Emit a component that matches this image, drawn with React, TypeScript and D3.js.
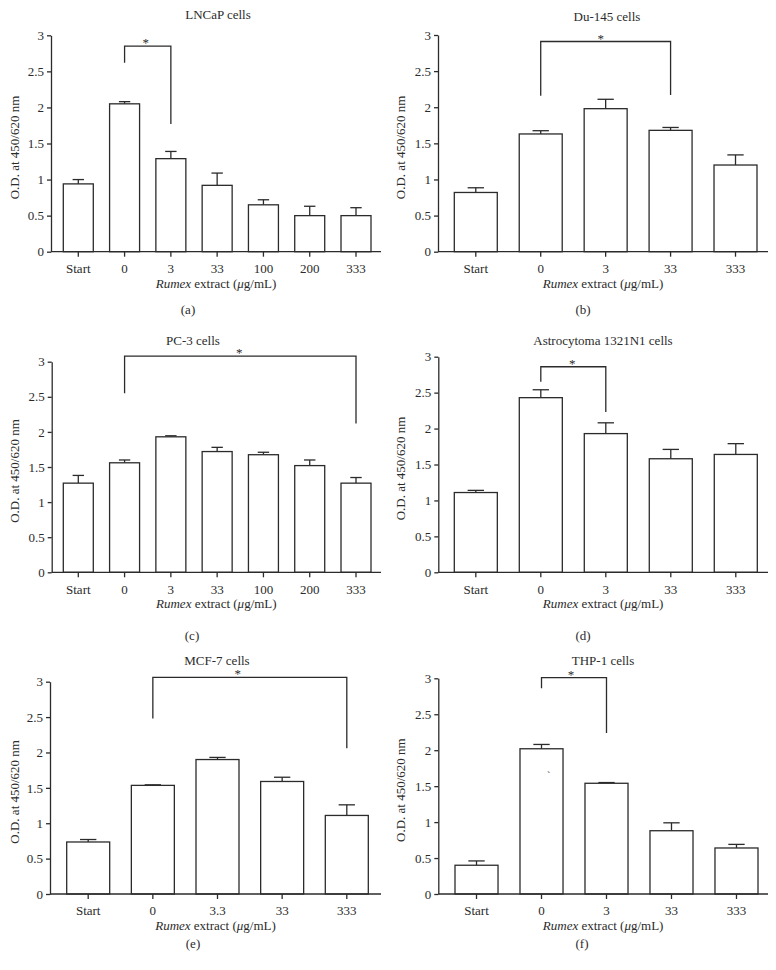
import { useEffect, useRef } from "react";
import * as d3 from "d3";

const FONT = "'Liberation Serif', 'Times New Roman', serif";
const INK = "#2b2b2b";

// y axis ticks shared by every panel
const yTicks = [0, 0.5, 1, 1.5, 2, 2.5, 3];
const yTickLabels = ["0", "0.5", "1", "1.5", "2", "2.5", "3"];

// (a) LNCaP
const catsA = ["Start", "0", "3", "33", "100", "200", "333"];
const meanA = [0.94, 2.05, 1.29, 0.92, 0.65, 0.5, 0.5];
const semA = [0.06, 0.03, 0.1, 0.17, 0.07, 0.13, 0.11];
const sigA = { from: "0", to: "3", top: 2.85, left: 2.62, right: 1.77 };

// (b) Du-145
const catsB = ["Start", "0", "3", "33", "333"];
const meanB = [0.82, 1.63, 1.98, 1.68, 1.2];
const semB = [0.065, 0.045, 0.13, 0.04, 0.14];
const sigB = { from: "0", to: "33", top: 2.91, left: 2.16, right: 2.17 };

// (c) PC-3
const catsC = ["Start", "0", "3", "33", "100", "200", "333"];
const meanC = [1.27, 1.56, 1.93, 1.72, 1.675, 1.52, 1.27];
const semC = [0.11, 0.04, 0.015, 0.06, 0.035, 0.08, 0.08];
const sigC = { from: "0", to: "333", top: 3.08, left: 2.55, right: 2.12 };

// (d) Astrocytoma 1321N1
const catsD = ["Start", "0", "3", "33", "333"];
const meanD = [1.11, 2.43, 1.93, 1.58, 1.64];
const semD = [0.03, 0.11, 0.15, 0.13, 0.15];
const sigD = { from: "0", to: "3", top: 2.86, left: 2.65, right: 2.23 };

// (e) MCF-7
const catsE = ["Start", "0", "3.3", "33", "333"];
const meanE = [0.735, 1.535, 1.9, 1.59, 1.11];
const semE = [0.035, 0.008, 0.03, 0.06, 0.15];
const sigE = { from: "0", to: "333", top: 3.06, left: 2.48, right: 2.06 };

// (f) THP-1
const catsF = ["Start", "0", "3", "33", "333"];
const meanF = [0.4, 2.02, 1.54, 0.88, 0.64];
const semF = [0.06, 0.06, 0.01, 0.11, 0.05];
const sigF = { from: "0", to: "3", top: 3.01, left: 2.86, right: 2.24 };

// page layout of each panel (pixels)
const layouts = [
  { x0: 51, x1: 381, bandL: 63.3, bandR: 371, pad: 0.352, y0: 251.7, y3: 35.3, titleX: 218, titleY: 18.5, tagX: 188, tagY: 313.5, ylx: 14, starDx: -2 },
  { x0: 438, x1: 768, bandL: 454.3, bandR: 757, pad: 0.338, y0: 251.7, y3: 35, titleX: 607, titleY: 21, tagX: 583, tagY: 313.5, ylx: 400, starDx: -5 },
  { x0: 51.7, x1: 381, bandL: 63.3, bandR: 371, pad: 0.352, y0: 572.3, y3: 361.7, titleX: 193, titleY: 344.5, tagX: 192, tagY: 639.5, ylx: 14, starDx: -1 },
  { x0: 438.3, x1: 768, bandL: 454.3, bandR: 757.3, pad: 0.338, y0: 572.3, y3: 356.7, titleX: 603, titleY: 344.5, tagX: 583, tagY: 639.5, ylx: 400, starDx: -1 },
  { x0: 50, x1: 381, bandL: 66.7, bandR: 368.3, pad: 0.335, y0: 894, y3: 681.7, titleX: 217, titleY: 664.5, tagX: 193, tagY: 947.5, ylx: 14, starDx: -12 },
  { x0: 438.3, x1: 768, bandL: 455, bandR: 758, pad: 0.338, y0: 894, y3: 678.3, titleX: 603, titleY: 664.5, tagX: 582, tagY: 947.5, ylx: 400, starDx: -3 },
];

const panels = [
  { title: "LNCaP cells", tag: "(a)", cats: catsA, mean: meanA, sem: semA, sig: sigA },
  { title: "Du-145 cells", tag: "(b)", cats: catsB, mean: meanB, sem: semB, sig: sigB },
  { title: "PC-3 cells", tag: "(c)", cats: catsC, mean: meanC, sem: semC, sig: sigC },
  { title: "Astrocytoma 1321N1 cells", tag: "(d)", cats: catsD, mean: meanD, sem: semD, sig: sigD },
  { title: "MCF-7 cells", tag: "(e)", cats: catsE, mean: meanE, sem: semE, sig: sigE },
  { title: "THP-1 cells", tag: "(f)", cats: catsF, mean: meanF, sem: semF, sig: sigF },
];

export default function App() {
  const svgRef = useRef<SVGSVGElement | null>(null);

  useEffect(() => {
    if (!svgRef.current) return;
    const svg = d3.select(svgRef.current);
    svg.selectAll("*").remove();

    panels.forEach((p, pi) => {
      const L = layouts[pi];
      const g = svg.append("g");

      const x = d3.scaleBand<string>()
        .domain(p.cats)
        .range([L.bandL, L.bandR])
        .paddingInner(L.pad)
        .paddingOuter(0);
      const y = d3.scaleLinear().domain([0, 3]).range([L.y0, L.y3]);
      const bw = x.bandwidth();
      const cx = (c: string) => (x(c) as number) + bw / 2;

      // error bars (upper half only, like the original)
      const cap = bw * 0.19;
      p.cats.forEach((c, i) => {
        const top = y(p.mean[i] + p.sem[i]);
        g.append("line")
          .attr("x1", cx(c)).attr("x2", cx(c))
          .attr("y1", y(p.mean[i])).attr("y2", top)
          .attr("stroke", INK).attr("stroke-width", 1.3);
        g.append("line")
          .attr("x1", cx(c) - cap).attr("x2", cx(c) + cap)
          .attr("y1", top).attr("y2", top)
          .attr("stroke", INK).attr("stroke-width", 1.3);
      });

      // bars
      g.selectAll("rect.bar")
        .data(p.cats)
        .join("rect")
        .attr("class", "bar")
        .attr("x", (c) => x(c) as number)
        .attr("y", (c, i) => y(p.mean[i]))
        .attr("width", bw)
        .attr("height", (c, i) => y(0) - y(p.mean[i]))
        .attr("fill", "#fff")
        .attr("stroke", INK)
        .attr("stroke-width", 1.3);

      // y axis
      const ya = g.append("g")
        .attr("transform", `translate(${L.x0},0)`)
        .call(
          d3.axisLeft(y)
            .tickValues(yTicks)
            .tickFormat((d, i) => yTickLabels[i])
            .tickSize(4)
            .tickSizeOuter(0)
            .tickPadding(3)
        );
      ya.attr("font-family", FONT).attr("font-size", 13);
      ya.selectAll("path, line").attr("stroke", INK).attr("stroke-width", 1.3);
      ya.selectAll("text").attr("fill", INK);

      // x axis line + category ticks
      g.append("line")
        .attr("x1", L.x0).attr("x2", L.x1)
        .attr("y1", L.y0).attr("y2", L.y0)
        .attr("stroke", INK).attr("stroke-width", 1.3);
      const xa = g.append("g")
        .attr("transform", `translate(0,${L.y0})`)
        .call(d3.axisBottom(x).tickSize(5).tickSizeOuter(0).tickPadding(7));
      xa.select(".domain").remove();
      xa.attr("font-family", FONT).attr("font-size", 13);
      xa.selectAll("line").attr("stroke", INK).attr("stroke-width", 1.3);
      xa.selectAll("text").attr("fill", INK);

      // x axis title
      const xt = g.append("text")
        .attr("x", (L.x0 + L.x1) / 2)
        .attr("y", L.y0 + 36)
        .attr("text-anchor", "middle")
        .attr("font-family", FONT).attr("font-size", 13).attr("fill", INK);
      xt.append("tspan").attr("font-style", "italic").text("Rumex");
      xt.append("tspan").text(" extract (");
      xt.append("tspan").attr("font-style", "italic").text("μ");
      xt.append("tspan").text("g/mL)");

      // y axis title
      g.append("text")
        .attr("transform", `translate(${L.ylx + 4.5},${(L.y0 + L.y3) / 2 + 4}) rotate(-90)`)
        .attr("text-anchor", "middle")
        .attr("font-family", FONT).attr("font-size", 13).attr("fill", INK)
        .text("O.D. at 450/620 nm");

      // panel title
      g.append("text")
        .attr("x", L.titleX).attr("y", L.titleY)
        .attr("text-anchor", "middle")
        .attr("font-family", FONT).attr("font-size", 13).attr("fill", INK)
        .text(p.title);

      // panel tag
      g.append("text")
        .attr("x", L.tagX).attr("y", L.tagY)
        .attr("text-anchor", "middle")
        .attr("font-family", FONT).attr("font-size", 13).attr("fill", INK)
        .text(p.tag);

      // significance bracket
      const s = p.sig;
      const xl = cx(s.from);
      const xr = cx(s.to);
      g.append("path")
        .attr("d", `M${xl},${y(s.left)}V${y(s.top)}H${xr}V${y(s.right)}`)
        .attr("fill", "none")
        .attr("stroke", INK)
        .attr("stroke-width", 1.3);
      g.append("text")
        .attr("x", (xl + xr) / 2 + L.starDx)
        .attr("y", y(s.top) + 1)
        .attr("text-anchor", "middle")
        .attr("font-family", FONT).attr("font-size", 13).attr("fill", INK)
        .text("*");
    });

    // stray mark inside the THP-1 "0" bar of the original figure
    svg.append("text")
      .attr("x", 547).attr("y", 779)
      .attr("font-family", FONT).attr("font-size", 10).attr("fill", INK)
      .text("`");
  }, []);

  return (
    <svg
      ref={svgRef}
      width={776}
      height={970}
      style={{ position: "absolute", left: 0, top: 0, background: "#fff" }}
    />
  );
}
